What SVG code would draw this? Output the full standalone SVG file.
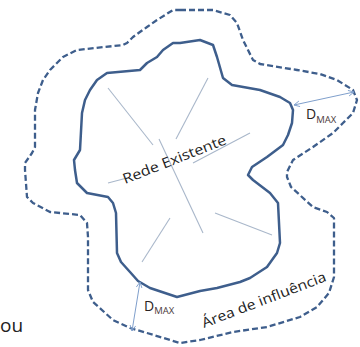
<svg xmlns="http://www.w3.org/2000/svg" width="360" height="347" viewBox="0 0 360 347">
<defs>
<style>
.inner{fill:none;stroke:#3e5e8c;stroke-width:2.5;stroke-linejoin:round;stroke-linecap:round}
.outer{fill:none;stroke:#3e5e8c;stroke-width:2.3;stroke-dasharray:6 3;stroke-linejoin:round}
.net{stroke:#a9b7ca;stroke-width:1.1;fill:none}
.dim{stroke:#7f9fcc;stroke-width:1;fill:none;marker-start:url(#ah);marker-end:url(#ah)}
.lbl{font-family:"Open Sans","Liberation Sans",sans-serif;fill:#222}
.d{font-family:"Open Sans","Liberation Sans",sans-serif;fill:#2a2222}
</style>
<marker id="ah" viewBox="0 0 10 10" refX="9" refY="5" markerWidth="7" markerHeight="7" orient="auto-start-reverse" markerUnits="userSpaceOnUse">
<path d="M1,1 L9,5 L1,9" fill="none" stroke="#7f9fcc" stroke-width="1.3"/>
</marker>
</defs>
<g id="area-influencia">
<path class="outer" d="M180,10 L213,10 L230,15 L237,23 L243,40 L253,60 L260,64 L297,70 L320,74 L337,80 L353,90 L357,100 L353,113 L343,123 L333,133 L313,147 L293,160 L287,172 L287,177 L291,187 L313,207 L327,212 L334,218 L334,277 L329,293 L317,307 L300,317 L267,327 L233,332 L200,340 L180,343 L147,333 L130,328 L113,320 L93,302 L88,290 L88,237 L87,223 L80,215 L50,212 L33,203 L27,197 L25,170 L25,163 L32,153 L35,147 L35,110 L38,93 L43,80 L50,70 L63,57 L77,50 L123,45 L127,43 L133,37 L147,27 L157,20 L173,10 Z"/>
</g>
<g id="rede-existente">
<path class="inner" d="M180,43 L200,40 L213,45 L217,57 L223,78 L232,85 L260,90 L280,97 L290,103 L293,110 L292,123 L288,135 L283,145 L267,157 L252,167 L248,175 L253,180 L270,193 L278,203 L280,243 L277,253 L267,267 L250,278 L240,282 L217,288 L200,291 L177,297 L150,288 L138,281 L130,272 L121,262 L117,253 L116,213 L113,203 L108,197 L87,193 L77,183 L75,170 L74,160 L80,150 L82,113 L85,100 L90,90 L97,80 L107,73 L140,70 L147,63 L157,57 L163,50 L173,43 Z"/>
</g>
<g id="rede-lines">
<line class="net" x1="108" y1="88" x2="153" y2="145"/>
<line class="net" x1="208" y1="78" x2="176" y2="139"/>
<line class="net" x1="159" y1="139" x2="203" y2="233"/>
<line class="net" x1="108" y1="183" x2="127" y2="178"/>
<line class="net" x1="193" y1="163" x2="250" y2="133"/>
<line class="net" x1="170" y1="218" x2="142" y2="262"/>
<line class="net" x1="215" y1="213" x2="272" y2="235"/>
</g>
<g id="connectors">
<line class="dim" x1="294" y1="105" x2="354" y2="92"/>
<line class="dim" x1="140" y1="282" x2="132" y2="331"/>
</g>
<g id="labels">
<text class="lbl" font-size="14" transform="translate(125,184) rotate(-21.5)" textLength="110" lengthAdjust="spacingAndGlyphs">Rede Existente</text>
<text class="lbl" font-size="14" transform="translate(204,328) rotate(-21)" textLength="132" lengthAdjust="spacingAndGlyphs">Área de influência</text>
<text class="d" x="306" y="119" font-size="14">D<tspan font-size="9.5" y="123" fill="#4a3a3a">MAX</tspan></text>
<text class="d" x="144" y="311" font-size="14">D<tspan font-size="9.5" y="314" fill="#4a3a3a">MAX</tspan></text>
<text class="lbl" x="0" y="332" font-size="19">ou</text>
</g>
</svg>
